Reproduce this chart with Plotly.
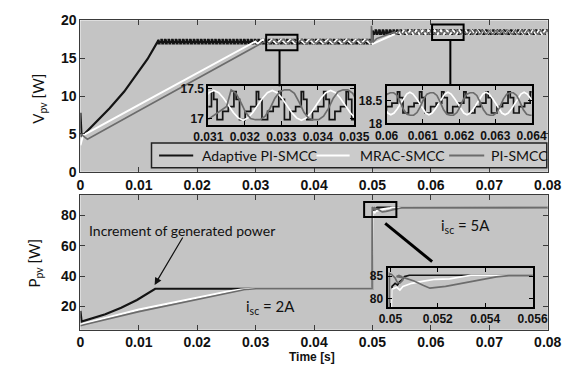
import numpy as np
import plotly.graph_objects as go

# ---------------- data ----------------
# V_pv start-up ramps (time [s], voltage)
vb_t = [0.0, 0.0002, 0.0008, 0.0025, 0.005, 0.0075, 0.01, 0.0115, 0.0133]
vb_v = [7.8, 4.6, 5.1, 6.4, 8.4, 10.6, 13.2, 14.9, 17.3]
vw_t = [0.0, 0.00044, 0.01, 0.02, 0.0299]
vw_v = [3.5, 4.8, 8.85, 13.0, 17.2]
vg_t = [0.0, 0.0012, 0.01, 0.02, 0.0315]
vg_v = [5.0, 4.3, 8.05, 12.3, 17.2]

# V_pv transients at the step of t = 0.05 s
vb_step_t = [0.05, 0.05003]
vb_step_v = [17.2, 18.65]
vw_step_t = [0.05, 0.05005, 0.0545]
vw_step_v = [17.2, 16.9, 18.44]
vg_step_t = [0.0498, 0.04982, 0.0499, 0.05005, 0.0507, 0.0537]
vg_step_v = [17.25, 19.3, 18.6, 17.1, 17.6, 18.43]

# one period of each steady-state ripple (phase fraction, offset from level)
black_ph = [0.0, 0.0, 0.10, 0.10, 0.25, 0.25, 0.50, 0.50, 0.75, 0.75]
black_dv = [0.0, 0.25, 0.25, 0.12, 0.12, -0.22, -0.22, -0.08, -0.08, 0.0]
white_ph = [i / 12 for i in range(12)]
white_dv = [0.0, 0.12, 0.21, 0.25, 0.21, 0.12, 0.0, -0.12, -0.21, -0.25, -0.21, -0.12]
gray_ph = [i / 12 for i in range(12)]
gray_dv = [-0.05, 0.12, 0.23, 0.26, 0.26, 0.2, 0.05, -0.12, -0.22, -0.24, -0.24, -0.18]

# ripple level, period, anchor time (before / after the step)
black_pre = (17.2, 0.000615, 0.01325)
white_pre = (17.22, 0.0016, 0.02915)
gray_pre = (17.22, 0.0016, 0.02949)
black_post = (18.45, 0.00061, 0.0603)
white_post = (18.44, 0.00105, 0.06038)
gray_post = (18.42, 0.0011, 0.06093)

# P_pv (time [s], power)
pb_t = [0.0, 0.0002, 0.00427, 0.00698, 0.00968, 0.0113, 0.0128, 0.0500, 0.05007, 0.0502,
        0.0503, 0.0504, 0.0505, 0.0506, 0.0508, 0.08]
pb_p = [17.0, 9.9, 14.8, 19.0, 24.2, 28.0, 31.6, 31.6, 82.7, 83.4,
        83.0, 83.8, 84.2, 84.9, 85.2, 85.2]
pw_t = [0.0, 0.0005, 0.01, 0.02, 0.025, 0.0275, 0.0295, 0.05, 0.05007, 0.05027,
        0.0504, 0.05053, 0.0509, 0.0514, 0.0519, 0.0525, 0.053, 0.0534, 0.08]
pw_p = [7.8, 8.6, 17.9, 26.0, 29.6, 31.1, 31.6, 31.6, 82.1, 82.5,
        81.9, 82.7, 83.4, 83.9, 84.3, 84.4, 84.9, 85.2, 85.2]
pg_t = [0.0, 0.0008, 0.01, 0.02, 0.025, 0.028, 0.030, 0.04994, 0.04996, 0.05005,
        0.0502, 0.05028, 0.0504, 0.05052, 0.05048, 0.05036, 0.05026, 0.0506, 0.0510,
        0.0514, 0.05167, 0.05233, 0.0530, 0.05367, 0.05447, 0.0550, 0.08]
pg_p = [7.2, 8.0, 16.5, 24.6, 28.5, 30.9, 31.6, 31.6, 85.6, 85.4,
        84.6, 83.7, 83.45, 84.1, 84.9, 85.15, 84.9, 84.6, 83.9,
        82.9, 82.3, 82.7, 83.4, 84.1, 84.85, 85.1, 85.2]

x_ticks = [0, 0.01, 0.02, 0.03, 0.04, 0.05, 0.06, 0.07, 0.08]
x_ticktext = ["0", "0.01", "0.02", "0.03", "0.04", "0.05", "0.06", "0.07", "0.08"]
v_ticks = [0, 5, 10, 15, 20]
p_ticks = [20, 40, 60, 80]
in1_xt = [0.031, 0.032, 0.033, 0.034, 0.035]
in1_yt = [17, 17.5]
in2_xt = [0.06, 0.061, 0.062, 0.063, 0.064]
in2_yt = [18, 18.5]
in3_xt = [0.05, 0.052, 0.054, 0.056]
in3_yt = [80, 85]

names = ["Adaptive PI-SMCC", "MRAC-SMCC", "PI-SMCC"]


def ripple(t_start, t_end, spec, ph, dv):
    level, period, anchor = spec
    k0 = int(np.floor((t_start - anchor) / period)) - 1
    k1 = int(np.ceil((t_end - anchor) / period)) + 1
    ks = np.arange(k0, k1)
    t = anchor + (ks[:, None] + np.asarray(ph)[None, :]) * period
    v = level + np.broadcast_to(np.asarray(dv), t.shape)
    t, v = t.ravel(), v.ravel()
    m = (t >= t_start) & (t <= t_end)
    return list(t[m]), list(v[m])


def series(ramp_t, ramp_v, pre, step_t, step_v, post, ph, dv):
    t1, v1 = ripple(ramp_t[-1], step_t[0], pre, ph, dv)
    t2, v2 = ripple(step_t[-1], 0.08, post, ph, dv)
    return (list(ramp_t) + t1 + list(step_t) + t2,
            list(ramp_v) + v1 + list(step_v) + v2)


VB = series(vb_t, vb_v, black_pre, vb_step_t, vb_step_v, black_post, black_ph, black_dv)
VW = series(vw_t, vw_v, white_pre, vw_step_t, vw_step_v, white_post, white_ph, white_dv)
VG = series(vg_t, vg_v, gray_pre, vg_step_t, vg_step_v, gray_post, gray_ph, gray_dv)

cols = ["#141414", "#ffffff", "#6c6c6c"]
widths = [2.2, 2.0, 1.6]

W, H = 576, 375


def px_x(a, b):
    return [a / W, b / W]


def px_y(top, bottom):
    return [1 - bottom / H, 1 - top / H]


fig = go.Figure()
V_sets = [VB, VW, VG]
P_sets = [(pb_t, pb_p), (pw_t, pw_p), (pg_t, pg_p)]
for ax in [("x", "y"), ("x3", "y3"), ("x4", "y4")]:
    for i, (t, v) in enumerate(V_sets):
        fig.add_trace(go.Scatter(x=t, y=v, mode="lines", name=names[i], showlegend=False,
                                 line=dict(color=cols[i], width=widths[i] if ax[0] == "x" else 1.7),
                                 xaxis=ax[0], yaxis=ax[1]))
for ax in [("x2", "y2"), ("x5", "y5")]:
    for i, (t, p) in enumerate(P_sets):
        fig.add_trace(go.Scatter(x=t, y=p, mode="lines", name=names[i], showlegend=False,
                                 line=dict(color=cols[i], width=widths[i] if ax[0] == "x2" else 1.7),
                                 xaxis=ax[0], yaxis=ax[1]))

tick_font = dict(family="Liberation Sans", size=14, color="#111", weight="bold")
in_font = dict(family="Liberation Sans", size=12, color="#111", weight="bold")


def main_ax(**kw):
    d = dict(showgrid=False, zeroline=False, showline=True, linecolor="#3a3a3a", linewidth=1,
             mirror="ticks", ticks="inside", ticklen=5, tickcolor="#3a3a3a", tickfont=tick_font)
    d.update(kw)
    return d


def inset_ax(**kw):
    d = dict(showgrid=False, zeroline=False, showline=True, linecolor="#000", linewidth=2,
             mirror="ticks", ticks="inside", ticklen=4, tickcolor="#000", tickfont=in_font)
    d.update(kw)
    return d


MX = px_x(69, 562)
fig.update_layout(
    width=W, height=H, autosize=False,
    margin=dict(l=0, r=0, t=0, b=0),
    paper_bgcolor="white", plot_bgcolor="#c4c4c4",
    xaxis=main_ax(domain=MX, range=[0, 0.08], anchor="y", tickvals=x_ticks, ticktext=x_ticktext),
    yaxis=main_ax(domain=px_y(13, 171), range=[0, 20], anchor="x", tickvals=v_ticks),
    xaxis2=main_ax(domain=MX, range=[0, 0.08], anchor="y2", tickvals=x_ticks, ticktext=x_ticktext),
    yaxis2=main_ax(domain=px_y(195, 336), range=[4.6, 93.7], anchor="x2", tickvals=p_ticks),
    xaxis3=inset_ax(domain=px_x(204, 358), range=[0.031, 0.035], anchor="y3",
                    tickvals=in1_xt, ticktext=[str(v) for v in in1_xt]),
    yaxis3=inset_ax(domain=px_y(81.7, 121.7), range=[16.9, 17.54], anchor="x3",
                    tickvals=in1_yt, ticktext=["17", "17.5"]),
    xaxis4=inset_ax(domain=px_x(392, 545), range=[0.06, 0.064], anchor="y4",
                    tickvals=in2_xt, ticktext=[str(v) for v in in2_xt]),
    yaxis4=inset_ax(domain=px_y(81, 120.5), range=[18.0, 18.84], anchor="x4",
                    tickvals=in2_yt, ticktext=["18", "18.5"]),
    xaxis5=inset_ax(domain=px_x(393, 546), range=[0.04988, 0.056], anchor="y5",
                    tickvals=in3_xt, ticktext=[str(v) for v in in3_xt]),
    yaxis5=inset_ax(domain=px_y(271.7, 312.3), range=[78.1, 86.8], anchor="x5",
                    tickvals=in3_yt, ticktext=["80", "85"]),
)

shapes = []
# zoom boxes and leader lines
shapes.append(dict(type="rect", xref="x", yref="y", x0=0.0318, x1=0.03716, y0=16.06, y1=18.1,
                   line=dict(color="#000", width=2)))
shapes.append(dict(type="line", xref="x", yref="y", x0=0.03409, x1=0.03409, y0=16.06, y1=11.3,
                   line=dict(color="#000", width=2)))
shapes.append(dict(type="rect", xref="x", yref="y", x0=0.0602, x1=0.0656, y0=17.43, y1=19.45,
                   line=dict(color="#000", width=2)))
shapes.append(dict(type="line", xref="x", yref="y", x0=0.06333, x1=0.06333, y0=17.43, y1=11.39,
                   line=dict(color="#000", width=2)))
shapes.append(dict(type="rect", xref="x2", yref="y2", x0=0.04857, x1=0.05409, y0=79.0, y1=88.8,
                   line=dict(color="#000", width=2)))
shapes.append(dict(type="line", xref="x2", yref="y2", x0=0.05218, x1=0.06021, y0=74.76, y1=49.5,
                   line=dict(color="#000", width=3)))
# legend box
shapes.append(dict(type="rect", xref="paper", yref="paper", x0=144 / W, x1=561 / W,
                   y0=1 - 167 / H, y1=1 - 141 / H, fillcolor="#cbcbcb",
                   line=dict(color="#222", width=1.5)))
ly = 1 - 154 / H
leg_lines = [(152, 188), (318, 353), (458, 495)]
leg_text_x = [195, 362, 500]
for i in range(3):
    shapes.append(dict(type="line", xref="paper", yref="paper", x0=leg_lines[i][0] / W,
                       x1=leg_lines[i][1] / W, y0=ly, y1=ly,
                       line=dict(color=cols[i], width=2)))
fig.update_layout(shapes=shapes)

lab_font = dict(family="Lato", size=14, color="#111")
big_font = dict(family="Lato", size=15, color="#111")
ann = []
for i in range(3):
    ann.append(dict(xref="paper", yref="paper", x=leg_text_x[i] / W, y=ly, text=names[i],
                    showarrow=False, xanchor="left", yanchor="middle", font=lab_font))
ann.append(dict(xref="paper", yref="paper", x=25 / W, y=1 - 95 / H, text="V<sub>pv</sub> [W]",
                textangle=-90, showarrow=False, xanchor="center", yanchor="middle", font=big_font))
ann.append(dict(xref="paper", yref="paper", x=21 / W, y=1 - 266 / H, text="P<sub>pv</sub> [W]",
                textangle=-90, showarrow=False, xanchor="center", yanchor="middle", font=big_font))
ann.append(dict(xref="paper", yref="paper", x=313 / W, y=1 - 365 / H, text="Time [s]",
                showarrow=False, xanchor="center", yanchor="middle",
                font=dict(family="Liberation Sans", size=12, color="#111", weight="bold")))
ann.append(dict(xref="paper", yref="paper", x=176 / W, y=1 - 232 / H,
                text="Increment of generated power", showarrow=False,
                xanchor="center", yanchor="middle", font=lab_font))
ann.append(dict(xref="x2", yref="y2", x=0.0127, y=34.1, ax=29, ay=-49, text="",
                showarrow=True, arrowhead=2, arrowsize=1.2, arrowwidth=1.2, arrowcolor="#111"))
ann.append(dict(xref="paper", yref="paper", x=270 / W, y=1 - 312 / H,
                text="i<sub>sc</sub> = 2A", showarrow=False,
                xanchor="center", yanchor="middle", font=big_font))
ann.append(dict(xref="paper", yref="paper", x=475 / W, y=1 - 228 / H,
                text="i<sub>sc</sub> = 5A", showarrow=False,
                xanchor="center", yanchor="middle", font=big_font))
fig.update_layout(annotations=ann)

fig.write_html("out.html", config={"displayModeBar": False},
               post_script="document.body.style.margin='0';")
